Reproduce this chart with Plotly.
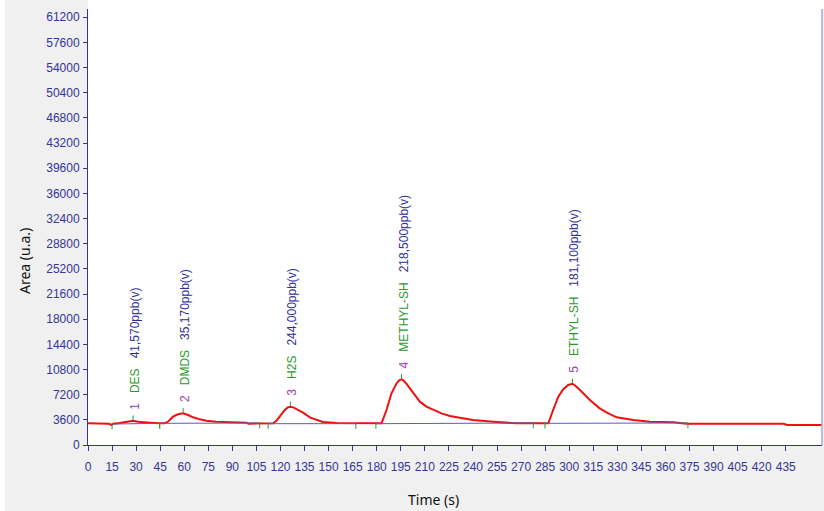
import plotly.graph_objects as go

# ---- data ----
time_s = [0, 10, 13, 14.6, 15.7, 19.8, 24, 28.1, 31.2, 34.3, 38.5, 44.7, 47.8, 49.9,
          53, 56.1, 59.3, 62.4, 65.5, 69.7, 73.8, 80, 88.4, 98.8, 100, 108, 113, 115.4,
          117.5, 119.6, 122.7, 124.5, 126.2, 128, 130, 134.1, 138.3, 143.5, 146.4, 155, 165, 175, 183,
          186.1, 189.2, 192.4, 194.2, 195.5, 197, 198.6, 200.7, 203.8, 206.9, 211, 215.2, 220.4,
          225.6, 233.9, 240, 252.6, 267, 280, 287, 290, 293.2, 296.3, 299.4, 302,
          303.5, 305.6, 308.7, 312.9, 319, 324.4, 329.6, 340, 350.4, 365, 373, 400, 433.5, 436, 458]
signal = [3100, 3100, 3050, 2860, 3050, 3150, 3340, 3480, 3340, 3240, 3200, 3100, 3100, 3340,
          4050, 4390, 4530, 4290, 3960, 3670, 3480, 3340, 3240, 3200, 3050, 3050, 3050, 3100,
          3480, 4150, 5010, 5380, 5480, 5380, 5150, 4630, 3950, 3500, 3300, 3150, 3100, 3100, 3100,
          5010, 7400, 8830, 9300, 9400, 9150, 8740, 8110, 7160, 6200, 5490, 5010, 4530,
          4150, 3770, 3580, 3340, 3100, 3100, 3100, 5010, 6910, 7970, 8590, 8750,
          8550, 8110, 7400, 6440, 5250, 4530, 3960, 3580, 3340, 3240, 3050, 3050, 3050, 2860, 2860]

# integration baselines (start time, start value, end time, end value)
base_t0 = [15, 44.7, 112.3, 179.5, 284.9]
base_v0 = [3000, 3100, 3050, 3050, 3100]
base_t1 = [44.7, 107, 167, 277.6, 374]
base_v1 = [3100, 3150, 3050, 3150, 3150]

# peaks
peak_num = ["1", "2", "3", "4", "5"]
peak_name = ["DES", "DMDS", "H2S", "METHYL-SH", "ETHYL-SH"]
peak_conc = ["41,570ppb(v)", "35,170ppb(v)", "244,000ppb(v)", "218,500ppb(v)", "181,100ppb(v)"]
apex_t = [28.1, 59.3, 126.2, 195.5, 302]
apex_v = [3480, 4530, 5480, 9400, 8750]

x_ticks = list(range(0, 436, 15))

NAVY = "#34349a"
FONT = "Liberation Sans"

fig = go.Figure()

fig.add_trace(go.Scatter(x=time_s, y=signal, mode="lines",
                         line=dict(color="#f01010", width=2), hoverinfo="skip"))

# baselines
bx, by = [], []
for a, va, b, vb in zip(base_t0, base_v0, base_t1, base_v1):
    bx += [a, b, None]
    by += [va, vb, None]
fig.add_trace(go.Scatter(x=bx, y=by, mode="lines",
                         line=dict(color="#5a5ac8", width=1), hoverinfo="skip"))

# green tick marks at integration boundaries and apexes
TK = 750
gx, gy = [], []
for a, va in zip(base_t0, base_v0):
    gx += [a, a, None]
    gy += [va + 100, va - TK, None]
for b, vb in zip(base_t1, base_v1):
    gx += [b, b, None]
    gy += [vb + 100, vb - TK, None]
for t, v in zip(apex_t, apex_v):
    gx += [t, t, None]
    gy += [v, v + TK, None]
fig.add_trace(go.Scatter(x=gx, y=gy, mode="lines",
                         line=dict(color="#2aa02a", width=1), hoverinfo="skip"))

NB = "\u00a0"
for n, name, conc, t, v in zip(peak_num, peak_name, peak_conc, apex_t, apex_v):
    txt = (f"<span style='color:#a040b0'>{n}</span>{NB*3}"
           f"<span style='color:#2a9a2a'>{name}</span>{NB*3}"
           f"<span style='color:#30309a'>{conc}</span>")
    fig.add_annotation(x=t, y=v, text=txt, textangle=-90, showarrow=False,
                       xanchor="center", yanchor="bottom", yshift=9, xshift=2,
                       font=dict(family=FONT, size=12))

# axis titles
fig.add_annotation(text="Area (u.a.)", xref="paper", yref="paper",
                   x=-64 / 734, y=(445 - 261) / 436, textangle=-90, showarrow=False,
                   xanchor="center", yanchor="middle",
                   font=dict(family="Noto Sans", size=14, color="#111111"))
fig.add_annotation(text="Time (s)", xref="paper", yref="paper",
                   x=(433 - 88) / 734, y=-(499 - 445) / 436, showarrow=False,
                   xanchor="center", yanchor="middle",
                   font=dict(family="Noto Sans", size=14, color="#111111"))

# white strip above plot, white strip at far left, right border
fig.add_shape(type="rect", xref="paper", yref="paper", x0=0, x1=1.01, y0=1, y1=1.05,
              fillcolor="white", line=dict(width=0), layer="below")
fig.add_shape(type="rect", xref="paper", yref="paper", x0=-88 / 734, x1=-83 / 734,
              y0=-0.2, y1=1.05, fillcolor="white", line=dict(width=0), layer="below")
fig.add_shape(type="line", xref="paper", yref="paper", x0=1, x1=1, y0=0, y1=1,
              line=dict(color="#a8a8d8", width=1.5))

fig.update_layout(
    width=824, height=511, autosize=False,
    margin=dict(l=88, r=2, t=9, b=66),
    paper_bgcolor="#f0f0f0", plot_bgcolor="white",
    showlegend=False,
    font=dict(family=FONT, size=12, color=NAVY),
)
fig.update_xaxes(range=[0, 457.6], tickvals=x_ticks, ticks="outside", ticklen=5,
                 tickcolor=NAVY, showline=True, linecolor=NAVY, linewidth=1,
                 showgrid=False, zeroline=False, tickfont=dict(family=FONT, size=12, color=NAVY),
                 ticklabelstandoff=6)
fig.update_yaxes(range=[0, 62380], tick0=0, dtick=3600, tickformat="d", ticks="outside",
                 ticklen=4, tickcolor=NAVY, showline=True, linecolor=NAVY, linewidth=1,
                 showgrid=False, zeroline=False, tickfont=dict(family=FONT, size=12, color=NAVY),
                 ticklabelstandoff=1)

fig.write_html("out.html", config={"displayModeBar": False},
               post_script="document.body.style.margin='0';document.body.style.padding='0';")
